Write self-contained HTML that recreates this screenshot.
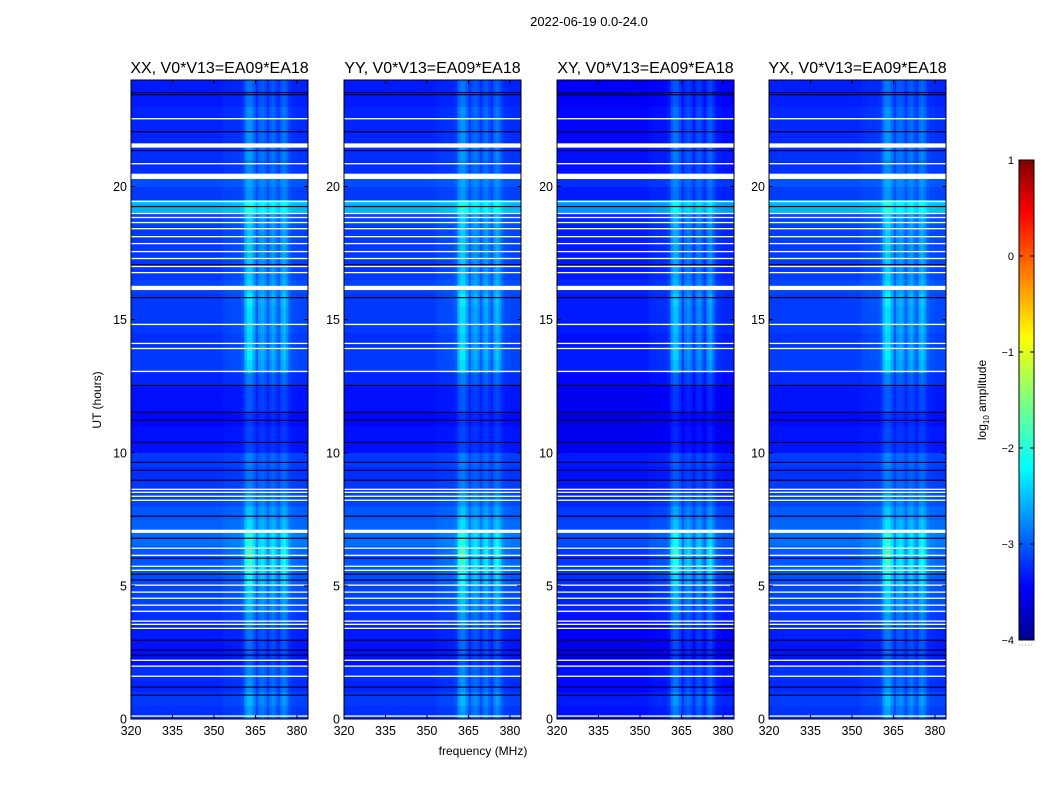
<!DOCTYPE html>
<html><head><meta charset="utf-8"><style>
body{margin:0;background:#fff;}
svg{display:block;font-family:"Liberation Sans","DejaVu Sans",sans-serif;}
</style></head><body>
<svg id="fig" width="1050" height="800" viewBox="0 0 1050 800">
<defs><linearGradient id="jet" x1="0" y1="1" x2="0" y2="0">
<stop offset="0" stop-color="#00008f"/><stop offset="0.11" stop-color="#0000ff"/><stop offset="0.36" stop-color="#00ffff"/><stop offset="0.5" stop-color="#7fff7f"/><stop offset="0.63" stop-color="#ffff00"/><stop offset="0.89" stop-color="#ff0000"/><stop offset="1" stop-color="#7f0000"/></linearGradient></defs>
<text x="589" y="26" font-size="13" text-anchor="middle">2022-06-19 0.0-24.0</text>
<text x="483" y="755" font-size="12" text-anchor="middle">frequency (MHz)</text>
<text transform="translate(101,400) rotate(-90)" font-size="12" text-anchor="middle">UT (hours)</text>
<g id="panels"></g>
<g id="cbar">
<rect x="1019" y="160" width="15" height="480" fill="url(#jet)" stroke="#000" stroke-width="1"/>
<line x1="1019" y1="645" x2="1034" y2="645" stroke="#999" stroke-dasharray="1,2"/>
<text transform="translate(986,400) rotate(-90)" font-size="12" text-anchor="middle">log<tspan font-size="8" dy="3">10</tspan><tspan dy="-3"> amplitude</tspan></text>
</g>
</svg>
<script>
const panelTitles=["XX, V0*V13=EA09*EA18","YY, V0*V13=EA09*EA18","XY, V0*V13=EA09*EA18","YX, V0*V13=EA09*EA18"];
const panelOffsets=[0,0,-0.15,0.02];
const xTicks=[320,335,350,365,380];
const yTicks=[0,5,10,15,20];
const cbTicks=[1,0,-1,-2,-3,-4];
const cbTickLabels=["1","0","\u22121","\u22122","\u22123","\u22124"];
const freqStart=320, freqStep=1;
const bandProfile=[0,0,0,0,0,0,0,0,0,0,0,0,0,0,0,0,0,0,0,0,0,0,0,0,0,0,0,0,0,0,0,0,0,0.03,0.04,0.04,0.05,0.05,0.05,0.06,0.1,0.35,0.45,0.45,0.3,0.1,0.25,0.3,0.25,0.1,0.25,0.3,0.2,0.1,0.3,0.35,0.25,0.1,0.05,0.05,0.03,0.03,0.03,0.03];
const rowLevels=[-3.15,-3.1,-3.2,-3.15,-3.3,-3.3,-3.25,-3.15,-3.05,-3.05,-3.0,-2.95,-2.95,-2.85,-2.9,-2.95,-3.05,-3.1,-3.15,-3.1,-3.3,-3.3,-3.35,-3.3,-3.3,-3.2,-3.1,-3.1,-3.15,-3.1,-3.1,-3.1,-3.05,-3.1,-3.1,-3.1,-3.1,-3.05,-2.5,-3.1,-3.0,-3.15,-3.15,-3.2,-3.2,-3.2,-3.25,-3.25];
const bandGain=[0.6,0.7,0.6,0.5,0.4,0.5,0.5,0.6,0.7,0.8,1.0,1.2,1.3,1.0,0.7,0.6,0.5,0.4,0.4,0.4,0.3,0.3,0.3,0.4,0.4,0.5,0.9,1.0,0.9,0.9,0.9,1.0,0.8,0.8,0.8,0.8,0.8,0.8,0.6,0.5,0.5,0.5,0.6,0.6,0.6,0.6,0.5,0.5];
const whiteLineTimes=[22.55,21.54,20.86,20.38,19.44,18.99,18.84,18.65,18.42,18.12,17.86,17.56,17.30,17.0,16.77,16.21,16.14,14.82,14.11,13.92,13.06,8.63,8.52,8.37,8.22,7.05,6.42,6.15,5.74,5.59,5.03,4.77,4.54,4.28,4.05,3.68,3.56,3.41,2.21,1.99,1.61,0.11];
const whiteLineWidths=[0.04,0.16,0.04,0.2,0.04,0.04,0.04,0.04,0.04,0.04,0.04,0.04,0.04,0.04,0.04,0.12,0.04,0.05,0.04,0.04,0.04,0.04,0.04,0.04,0.04,0.12,0.04,0.04,0.04,0.04,0.04,0.04,0.04,0.04,0.04,0.04,0.04,0.04,0.04,0.04,0.04,0.05];
const blackLineTimes=[23.53,23.45,22.06,21.35,19.25,17.07,15.83,12.53,11.52,11.22,10.39,9.64,9.34,8.97,7.62,6.79,6.04,5.44,5.22,2.96,2.59,2.40,1.20,0.90];
const blackLineWidth=0.04;
const NS="http://www.w3.org/2000/svg";
const lefts=[131,344,557,769], PW=177, TOP=80, BOT=719;
const fMin=320,fMax=384,tMin=0,tMax=24;
function xs(f,i){return lefts[i]+(f-fMin)/(fMax-fMin)*PW;}
function ys(t){return BOT-(t-tMin)/(tMax-tMin)*(BOT-TOP);}
function jet(v){let t=Math.max(0,Math.min(1,(v+4)/5));
 const c=x=>Math.round(255*Math.max(0,Math.min(1,x)));
 const r=c(Math.min(4*t-1.5,-4*t+4.5)),g=c(Math.min(4*t-0.5,-4*t+3.5)),b=c(Math.min(4*t+0.5,-4*t+2.5));
 return `rgb(${r},${g},${b})`;}
function mk(tag,attrs,parent){const e=document.createElementNS(NS,tag);for(const k in attrs)e.setAttribute(k,attrs[k]);parent.appendChild(e);return e;}
const root=document.getElementById('panels');
for(let p=0;p<4;p++){
 const g=mk('g',{},root);
 
 
 const hm=mk('g',{'shape-rendering':'crispEdges'},g);
 
 
 const rowH=(tMax-tMin)/rowLevels.length;
 for(let r=0;r<rowLevels.length;r++){
  for(let c=0;c<bandProfile.length;c++){
   const f0=freqStart+c*freqStep;
   const v=rowLevels[r]+panelOffsets[p]+bandProfile[c]*bandGain[r]*2;
   const x0=xs(f0,p),x1=xs(f0+freqStep,p),y0=ys(r*rowH+rowH),y1=ys(r*rowH);
   const cell=mk('rect',{x:x0.toFixed(2),y:y0.toFixed(2),width:(x1-x0+0.3).toFixed(2),height:(y1-y0+0.3).toFixed(2),fill:jet(v)},hm);
   
   
  }
 }
 blackLineTimes.forEach(t=>{
  const l=mk('rect',{x:lefts[p],y:ys(t+blackLineWidth/2),width:PW,height:Math.max(1.2,blackLineWidth*26.6),fill:'#000030'},g);
  
  
 });
 whiteLineTimes.forEach((t,i)=>{
  const w=whiteLineWidths[i];
  const l=mk('rect',{x:lefts[p],y:ys(t+w/2),width:PW,height:Math.max(1.3,w*26.6),fill:'#fff'},g);
  
  
 });
 const fr=mk('rect',{x:lefts[p],y:TOP,width:PW,height:BOT-TOP,fill:'none',stroke:'#000','stroke-width':1},g);
 
 
 const tt=mk('text',{x:lefts[p]+PW/2,y:TOP-7,'font-size':16,'text-anchor':'middle'},g);
 tt.textContent=panelTitles[p];
 
 
 xTicks.forEach(f=>{
  const x=xs(f,p);
  mk('line',{x1:x,y1:BOT,x2:x,y2:BOT-4,stroke:'#000'},g);
  mk('line',{x1:x,y1:TOP,x2:x,y2:TOP+4,stroke:'#000'},g);
  const t=mk('text',{x:x,y:BOT+16,'font-size':12.5,'text-anchor':'middle'},g);
  t.textContent=f;
  
  
 });
 yTicks.forEach(v=>{
  const y=ys(v);
  mk('line',{x1:lefts[p],y1:y,x2:lefts[p]+4,y2:y,stroke:'#000'},g);
  mk('line',{x1:lefts[p]+PW,y1:y,x2:lefts[p]+PW-4,y2:y,stroke:'#000'},g);
  const t=mk('text',{x:lefts[p]-4,y:y+4.5,'font-size':12.5,'text-anchor':'end'},g);
  t.textContent=v;
  
  
 });
}
const cb=document.getElementById('cbar');
cbTicks.forEach((v,i)=>{
 const y=160+(1-v)/5*480;
 mk('line',{x1:1019,y1:y,x2:1023,y2:y,stroke:'#000'},cb);
 mk('line',{x1:1034,y1:y,x2:1030,y2:y,stroke:'#000'},cb);
 const t=mk('text',{x:1014,y:y+4,'font-size':11,'text-anchor':'end'},cb);
 t.textContent=cbTickLabels[i];
 
 
});
</script>
</body></html>
